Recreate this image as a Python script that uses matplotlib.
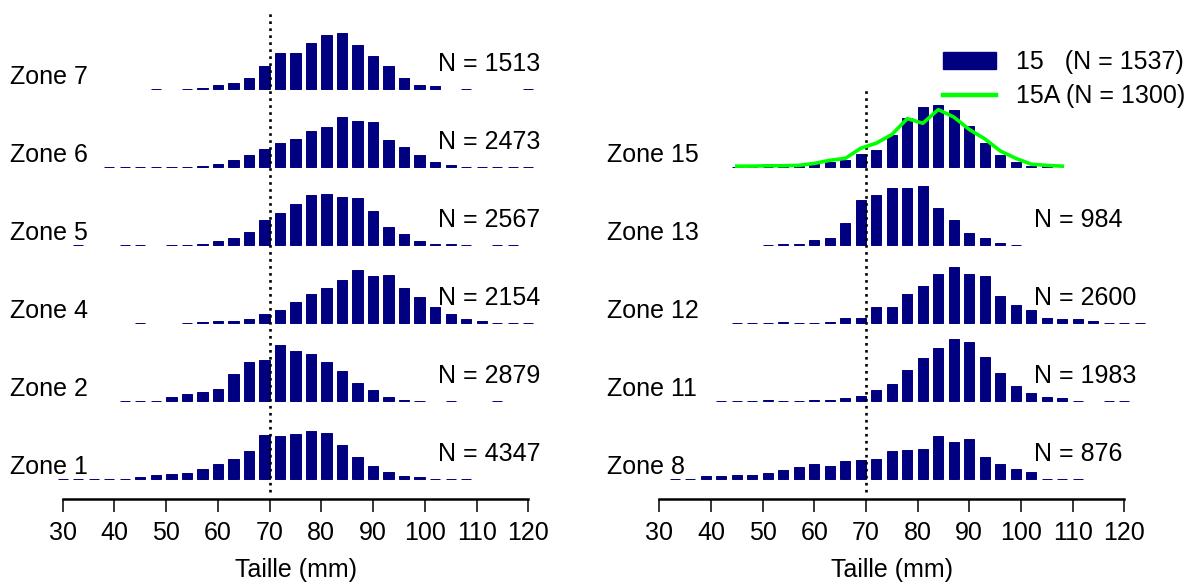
import matplotlib
matplotlib.use("Agg")
import matplotlib.pyplot as plt
from matplotlib.patches import Patch
from matplotlib.lines import Line2D

plt.rcParams['font.family'] = ['Liberation Sans', 'DejaVu Sans']

# size classes (mm, bin centres) and % frequency per zone
bins = [30, 33, 36, 39, 42, 45, 48, 51, 54, 57, 60, 63, 66, 69, 72, 75,
        78, 81, 84, 87, 90, 93, 96, 99, 102, 105, 108, 111, 114, 117, 120, 123]

zone1 = [0.1, 0.1, 0.1, 0.1, 0.1, 0.4, 0.9, 1.2, 1.5, 2.5, 3.8, 5.1, 7.2, 11.3, 11.0, 11.6,
         12.3, 11.8, 8.7, 5.6, 3.3, 1.7, 0.7, 0.4, 0.1, 0.1, 0.1, 0, 0, 0, 0, 0]
zone2 = [0, 0, 0, 0, 0.1, 0.1, 0.1, 0.9, 1.8, 2.3, 3.1, 7.0, 10.0, 10.6, 14.4, 12.8,
         12.1, 10.0, 7.7, 4.7, 2.8, 0.9, 0.3, 0.1, 0, 0.1, 0, 0, 0.1, 0, 0, 0]
zone4 = [0, 0, 0, 0, 0, 0.1, 0, 0, 0.1, 0.2, 0.4, 0.6, 1.1, 2.2, 3.4, 5.3,
         7.3, 8.9, 10.9, 13.5, 12.0, 12.2, 8.9, 6.6, 4.0, 2.4, 1.1, 0.6, 0.1, 0.1, 0.1, 0]
zone5 = [0, 0.1, 0, 0, 0.1, 0.1, 0, 0.1, 0.1, 0.3, 0.9, 1.9, 3.4, 6.3, 8.1, 10.4,
         12.8, 13.0, 12.2, 12.0, 8.6, 4.7, 2.7, 0.9, 0.3, 0.3, 0.1, 0, 0.1, 0.1, 0, 0]
zone6 = [0, 0, 0, 0.1, 0.1, 0.1, 0.1, 0.1, 0.1, 0.3, 0.8, 1.8, 3.1, 4.7, 6.2, 7.2,
         9.1, 10.3, 12.9, 11.9, 11.6, 7.0, 5.2, 3.1, 1.3, 0.6, 0.1, 0.1, 0.1, 0.1, 0.1, 0]
zone7 = [0, 0, 0, 0, 0, 0, 0.1, 0, 0.1, 0.3, 0.9, 1.4, 2.7, 5.9, 9.2, 9.2,
         11.8, 13.9, 14.4, 11.3, 8.4, 5.8, 2.9, 0.9, 0.7, 0, 0.1, 0, 0, 0, 0.1, 0]

zone8 = [0, 0.1, 0.1, 0.8, 0.8, 1.0, 1.0, 1.6, 2.3, 3.1, 3.9, 3.4, 4.7, 4.9, 5.2, 7.2,
         7.5, 7.8, 11.1, 9.6, 10.3, 5.7, 3.9, 2.6, 1.8, 0.1, 0.1, 0.1, 0, 0, 0, 0]
zone11 = [0, 0, 0, 0, 0.1, 0.1, 0.1, 0.2, 0.1, 0.1, 0.2, 0.2, 0.7, 1.3, 2.8, 4.3,
          7.9, 11.0, 13.6, 15.9, 15.2, 11.3, 7.2, 3.8, 2.0, 0.9, 0.7, 0.1, 0, 0.1, 0.1, 0]
zone12 = [0, 0, 0, 0, 0, 0.1, 0.1, 0.1, 0.3, 0.1, 0.1, 0.3, 1.4, 1.4, 4.2, 4.2,
          7.3, 9.4, 12.5, 14.3, 12.5, 12.0, 6.8, 4.5, 3.4, 1.4, 1.1, 0.9, 0.6, 0.1, 0.1, 0.1]
zone13 = [0, 0, 0, 0, 0, 0, 0, 0.1, 0.2, 0.3, 1.3, 1.8, 5.7, 11.4, 12.9, 14.7,
          14.7, 15.0, 9.6, 6.5, 3.1, 1.8, 0.5, 0.1, 0, 0, 0, 0, 0, 0, 0, 0]
zone15 = [0, 0, 0, 0, 0, 0.1, 0.1, 0.1, 0.2, 0.3, 0.7, 1.2, 1.7, 3.3, 4.3, 8.2,
          12.6, 15.4, 15.9, 14.7, 10.5, 6.1, 3.0, 1.2, 0.3, 0.3, 0, 0, 0, 0, 0, 0]

# zone 15A drawn as a line
bins15a = [45, 48, 51, 54, 57, 60, 63, 66, 69, 72, 75, 78, 81, 84, 87, 90, 93, 96, 99, 102, 105, 108]
zone15a = [0.2, 0.2, 0.3, 0.3, 0.4, 0.9, 1.7, 2.2, 4.8, 6.1, 8.3, 12.4, 11.2, 14.7, 12.8, 9.6,
           7.2, 4.1, 2.2, 0.7, 0.4, 0.2]

left_names = ["Zone 1", "Zone 2", "Zone 4", "Zone 5", "Zone 6", "Zone 7"]
left_data = [zone1, zone2, zone4, zone5, zone6, zone7]
left_n = ["N = 4347", "N = 2879", "N = 2154", "N = 2567", "N = 2473", "N = 1513"]

right_names = ["Zone 8", "Zone 11", "Zone 12", "Zone 13", "Zone 15"]
right_data = [zone8, zone11, zone12, zone13, zone15]
right_n = ["N = 876", "N = 1983", "N = 2600", "N = 984", None]

navy = "#000080"
FS = 18
step = 20

fig = plt.figure(figsize=(11.9, 5.82), dpi=100)
ax1 = fig.add_axes([62.7 / 1190, 83 / 582, 465.6 / 1190, 499 / 582])
ax2 = fig.add_axes([659.3 / 1190, 83 / 582, 465.0 / 1190, 499 / 582])


def draw_panel(ax, names, data, ns, vtop):
    for i in range(len(names)):
        off = i * step
        vals = data[i]
        xs = [b for b, v in zip(bins, vals) if v > 0]
        hs = [v for v in vals if v > 0]
        ax.bar(xs, hs, width=2.0, bottom=off, color=navy, edgecolor=navy,
               linewidth=0.7, clip_on=False, zorder=2)
        ax.text(19.9, off + 1.35, names[i], fontsize=FS, ha='left', va='baseline',
                clip_on=False)
        if ns[i]:
            ax.text(102.5, off + 4.7, ns[i], fontsize=FS, ha='left', va='baseline')
    ax.vlines(70, -3.3, vtop, colors='black', linestyles=':', linewidth=1.9, zorder=3)
    ax.set_xlim(30, 120)
    ax.set_ylim(-5.13, 122.8)
    for s in ['top', 'right', 'left']:
        ax.spines[s].set_visible(False)
    ax.spines['bottom'].set_linewidth(1.8)
    ax.spines['bottom'].set_bounds(30, 120)
    ax.set_yticks([])
    ax.set_xticks([30, 40, 50, 60, 70, 80, 90, 100, 110, 120])
    ax.tick_params(axis='x', direction='out', length=9, width=1.1, labelsize=FS, pad=7)
    ax.set_xlabel("Taille (mm)", fontsize=FS, labelpad=9)
    ax.patch.set_visible(False)


draw_panel(ax1, left_names, left_data, left_n, 120)
draw_panel(ax2, right_names, right_data, right_n, 99.7)

ax2.plot(bins15a, [4 * step + v for v in zone15a], color='#00ff00',
         linewidth=2.6, zorder=4, clip_on=False)

handles = [Patch(facecolor=navy, edgecolor=navy), Line2D([], [], color='#00ff00', linewidth=3.2)]
ax2.legend(handles, ["15   (N = 1537)", "15A (N = 1300)"], loc='upper left',
           bbox_to_anchor=(943 / 1190, 1 - 50 / 582), bbox_transform=fig.transFigure,
           frameon=False, fontsize=FS, handlelength=2.1, handleheight=0.65,
           handletextpad=0.8, labelspacing=0.42, borderpad=0, borderaxespad=0)

fig.savefig("out.png", dpi=100)
